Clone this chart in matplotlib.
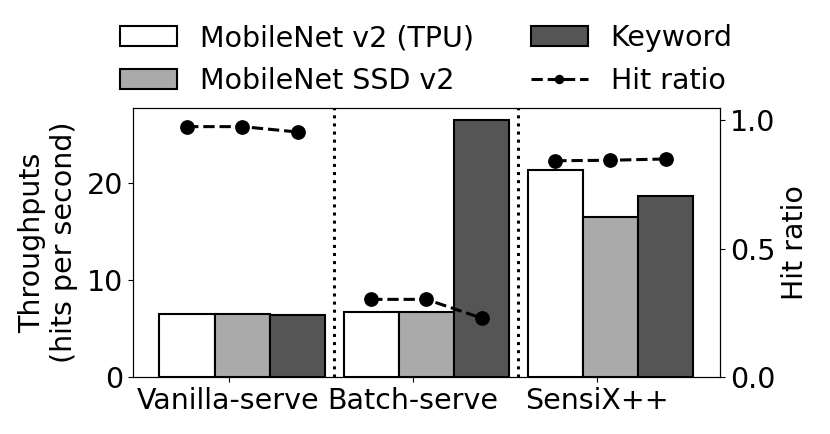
import numpy as np
import matplotlib
matplotlib.use("Agg")
import matplotlib.pyplot as plt

# data
systems = ["Vanilla-serve", "Batch-serve", "SensiX++"]
models = ["MobileNet v2 (TPU)", "MobileNet SSD v2", "Keyword"]
throughput_tpu = [6.5, 6.7, 21.3]
throughput_ssd = [6.5, 6.7, 16.5]
throughput_kw = [6.4, 26.4, 18.6]
hit_vanilla = [0.976, 0.976, 0.955]
hit_batch = [0.303, 0.303, 0.23]
hit_sensix = [0.843, 0.845, 0.85]

bar_colors = ["white", "#aaaaaa", "#555555"]

plt.rcParams["font.family"] = ["DejaVu Sans"]
plt.rcParams["font.size"] = 20.5

fig = plt.figure(figsize=(8.3, 4.34), dpi=100)
ax = fig.add_axes([0.160, 0.131, 0.7075, 0.621])

x = np.arange(len(systems))
w = 0.3
series = [throughput_tpu, throughput_ssd, throughput_kw]
handles = []
for k, (vals, name, col) in enumerate(zip(series, models, bar_colors)):
    b = ax.bar(x + (k - 1) * w, vals, w, color=col, edgecolor="black",
               linewidth=1.5, label=name)
    handles.append(b)

ax.set_xticks(x - 0.25 * w)
ax.set_xticklabels(systems)
ax.set_ylabel("Throughputs\n(hits per second)", labelpad=6)
ax.set_yticks([0, 10, 20])

for d in x[:-1] + 0.5:
    ax.axvline(d, color="black", linestyle=":", linewidth=2.2)

ax2 = ax.twinx()
hits = [hit_vanilla, hit_batch, hit_sensix]
for i, h in enumerate(hits):
    ln, = ax2.plot(x[i] + (np.arange(3) - 1) * w, h, color="black",
                   linestyle="--", linewidth=2.2, marker="o", markersize=9.6,
                   label="Hit ratio")
ax2.set_ylim(0, 1.05)
ax2.set_yticks([0.0, 0.5, 1.0])
ax2.set_ylabel("Hit ratio")

ax.legend(handles + [ln], models + ["Hit ratio"], ncol=2, frameon=False,
          loc="lower center", bbox_to_anchor=(0.5, 0.985), markerscale=0.6,
          borderaxespad=0.2, labelspacing=0.5)

fig.savefig("out.png", dpi=100)
